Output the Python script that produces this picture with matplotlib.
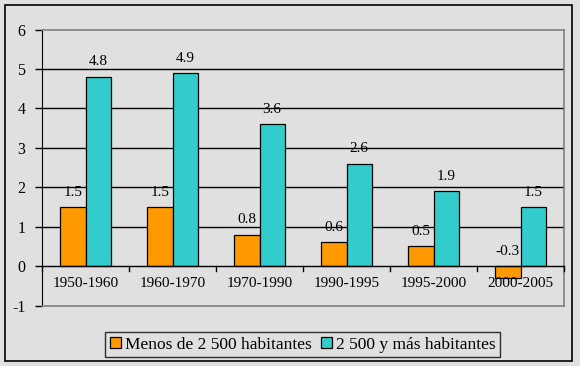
import numpy as np
import matplotlib
matplotlib.use('Agg')
import matplotlib.pyplot as plt
from matplotlib.patches import Rectangle

periods = ['1950-1960', '1960-1970', '1970-1990', '1990-1995', '1995-2000', '2000-2005']
menos_2500 = [1.5, 1.5, 0.8, 0.6, 0.5, -0.3]
mas_2500 = [4.8, 4.9, 3.6, 2.6, 1.9, 1.5]
series_names = ['Menos de 2 500 habitantes', '2 500 y más habitantes']
y_ticks = [-1, 0, 1, 2, 3, 4, 5, 6]

BG = '#E0E0E0'
plt.rcParams['font.family'] = ['Liberation Serif', 'DejaVu Serif']
plt.rcParams['font.size'] = 11
plt.rcParams['axes.unicode_minus'] = False

fig = plt.figure(figsize=(5.8, 3.66), dpi=100, facecolor=BG)
fig.patches.append(Rectangle((5/580, 5/366), 567/580, 356/366, transform=fig.transFigure,
                             fill=False, edgecolor='black', lw=1.2))
ax = fig.add_axes([42/580, 1 - 305.5/366, 522/580, 276/366], facecolor=BG)

x = np.arange(len(periods)) + 0.5
w = 0.29
b1 = ax.bar(x - w/2, menos_2500, w, color='#FF9900', edgecolor='black', lw=0.9,
            label=series_names[0], zorder=3)
b2 = ax.bar(x + w/2, mas_2500, w, color='#33CCCC', edgecolor='black', lw=0.9,
            label=series_names[1], zorder=3)

# data labels
for xs, vals in [(x - w/2, menos_2500), (x + w/2, mas_2500)]:
    for xi, v in zip(xs, vals):
        ax.annotate('%.1f' % v, xy=(xi, max(v, 0)), xytext=(0, 6),
                    textcoords='offset points', ha='center', va='bottom', zorder=4)

ax.set_xlim(0, len(periods))
ax.set_ylim(-1, 6)
ax.set_yticks(y_ticks)
ax.set_xticks([])
ax.tick_params(axis='y', length=5, width=1, pad=7, color='black', labelsize=11.5)

for yv in y_ticks[2:-1]:
    ax.axhline(yv, color='black', lw=1, zorder=1)
ax.axhline(0, color='black', lw=1, zorder=5)

# category ticks on the zero line
for b in range(len(periods) + 1):
    ax.plot([b, b], [0, -0.13], color='black', lw=1, clip_on=False, zorder=5)
for xi, p in zip(x, periods):
    ax.annotate(p, xy=(xi, 0), xytext=(0, -12.5), textcoords='offset points',
                ha='center', va='center')

ax.spines['left'].set_color('black')
for s in ['top', 'right', 'bottom']:
    ax.spines[s].set_color('#808080')
    ax.spines[s].set_linewidth(1.2)

leg = fig.legend(handles=[b1, b2], loc='center', bbox_to_anchor=(0.522, 0.0587),
                 ncol=2, frameon=True, fancybox=False, handlelength=0.65, handleheight=0.65,
                 handletextpad=0.25, columnspacing=0.5, borderpad=0.25, fontsize=12.5)
leg.get_frame().set_edgecolor('black')
leg.get_frame().set_facecolor(BG)
leg.get_frame().set_linewidth(1)

fig.savefig('out.png', dpi=100, facecolor=BG)
